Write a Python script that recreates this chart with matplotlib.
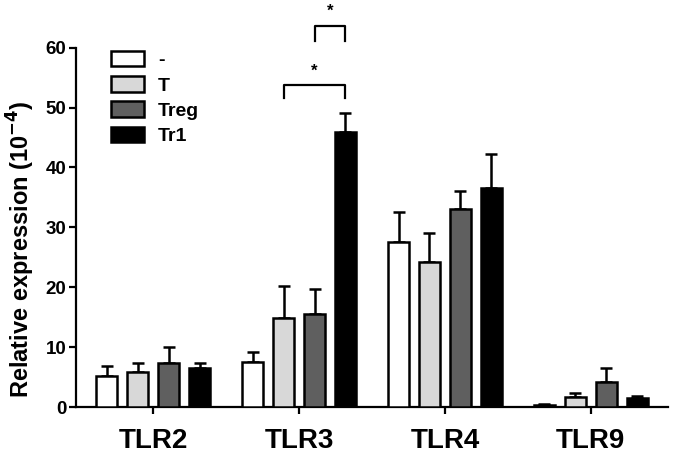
import numpy as np
import matplotlib
matplotlib.use('Agg')
import matplotlib.pyplot as plt

plt.rcParams['font.family'] = ['Liberation Sans', 'DejaVu Sans']
plt.rcParams['font.weight'] = 'bold'

#Data
genes = ['TLR2', 'TLR3', 'TLR4', 'TLR9']
groups = ['-', 'T', 'Treg', 'Tr1']
colors = ['white', '#d8d8d8', '#5f5f5f', 'black']

mean_none = [5.2, 7.5, 27.5, 0.4]
mean_t = [5.8, 14.8, 24.3, 1.7]
mean_treg = [7.3, 15.5, 33.1, 4.2]
mean_tr1 = [6.5, 45.9, 36.5, 1.6]

err_none = [1.7, 1.7, 5.0, 0.1]
err_t = [1.6, 5.4, 4.8, 0.6]
err_treg = [2.7, 4.3, 2.9, 2.3]
err_tr1 = [0.9, 3.2, 5.8, 0.3]

means = [mean_none, mean_t, mean_treg, mean_tr1]
errs = [err_none, err_t, err_treg, err_tr1]

fig = plt.figure(figsize=(6.75, 4.58), dpi=100)
ax = fig.add_axes([0.1126, 0.111, 0.877, 0.785])

x = np.arange(len(genes))
pitch = 0.212
width = 0.144
for i in range(4):
    pos = x + (i - 1.5) * pitch
    ax.bar(pos, means[i], width, color=colors[i], edgecolor='black',
           linewidth=1.8, label=groups[i], zorder=3)
    ax.errorbar(pos, means[i], yerr=[np.zeros(4), errs[i]], fmt='none',
                ecolor='black', elinewidth=1.8, capsize=4, capthick=1.8, zorder=2)

#Significance brackets
def bracket(x1, x2, top, drop, star_y):
    ax.plot([x1, x1, x2, x2], [top - drop, top, top, top - drop], color='black',
            lw=1.6, clip_on=False)
    ax.text((x1 + x2) / 2, star_y, '*', ha='center', va='center', fontsize=12,
            fontweight='bold', clip_on=False)

t3 = 1
bracket(t3 - 0.5 * pitch, t3 + 1.5 * pitch, 53.8, 2.2, 56.0)
bracket(t3 + 0.5 * pitch, t3 + 1.5 * pitch, 63.6, 2.5, 66.0)

ax.set_xlim(-0.53, 3.53)
ax.set_ylim(0, 60)
ax.set_yticks(range(0, 61, 10))
ax.set_xticks(x)
ax.set_xticklabels(genes, fontsize=20, fontweight='bold')
ax.tick_params(axis='y', labelsize=13.5, width=1.6, length=5, pad=2)
ax.tick_params(axis='x', width=1.6, length=5, pad=10)
for lab in ax.get_yticklabels():
    lab.set_fontweight('bold')

ax.spines['top'].set_visible(False)
ax.spines['right'].set_visible(False)
ax.spines['left'].set_linewidth(1.6)
ax.spines['bottom'].set_linewidth(1.6)

ax.set_ylabel('Relative expression (10$^{\\mathbf{-4}}$)', fontsize=17,
              fontweight='bold')
ax.yaxis.set_label_coords(-0.066, 0.44)

leg = ax.legend(loc='upper left', bbox_to_anchor=(0.03, 1.04), frameon=False,
                fontsize=14, handlelength=1.7, handleheight=0.85, labelspacing=0.35,
                handletextpad=0.7)
for t in leg.get_texts():
    t.set_fontweight('bold')

fig.savefig('out.png', dpi=100)
